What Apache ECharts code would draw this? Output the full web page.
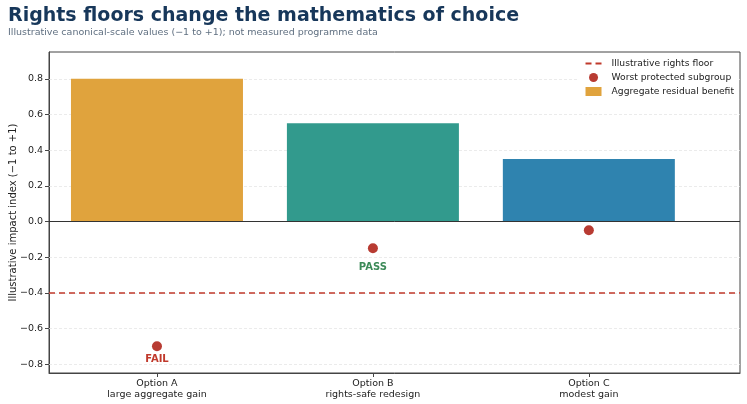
<!DOCTYPE html>
<html>
<head>
    <meta charset="utf-8">
    <title>Rights floors</title>
    <script src="https://cdn.jsdelivr.net/npm/echarts@6/dist/echarts.min.js"></script>
    <style>
        html, body { margin: 0; padding: 0; background: #fff; }
        #main { width: 747px; height: 404px; }
    </style>
</head>
<body>
<div id="main"></div>
<script type="text/javascript">
    // data
    var options = ['Option A\nlarge aggregate gain', 'Option B\nrights-safe redesign', 'Option C\nmodest gain'];
    var aggregateBenefit = [0.80, 0.55, 0.35];
    var worstSubgroup = [-0.70, -0.15, -0.05];
    var verdicts = ['FAIL', 'PASS', ''];
    var rightsFloor = -0.4;
    var yTicks = [-0.8, -0.6, -0.4, -0.2, 0.0, 0.2, 0.4, 0.6, 0.8];

    var barColors = ['#E0A33D', '#329A8D', '#2F83AF'];
    var verdictColors = { FAIL: '#C0392B', PASS: '#3C8A58' };
    var verdictOffset = { FAIL: 12, PASS: 18 };
    var font = 'DejaVu Sans';

    var myChart = echarts.init(document.getElementById('main'));

    var barData = [];
    var dotData = [];
    for (var i = 0; i < options.length; i++) {
        barData.push({ value: [i, aggregateBenefit[i]], itemStyle: { color: barColors[i] } });
        var v = verdicts[i];
        dotData.push({
            value: [i, worstSubgroup[i]],
            label: v ? {
                show: true, formatter: v, position: 'bottom', distance: verdictOffset[v] - 9,
                color: verdictColors[v], fontWeight: 'bold', fontSize: 10, fontFamily: font
            } : { show: false }
        });
    }

    var gridLines = [];
    for (var k = 0; k < yTicks.length; k++) gridLines.push({ yAxis: yTicks[k] });

    var option = {
        animation: false,
        backgroundColor: '#fff',
        title: {
            text: 'Rights floors change the mathematics of choice',
            subtext: 'Illustrative canonical-scale values (\u22121 to +1); not measured programme data',
            left: 3, top: 2,
            itemGap: 2,
            textStyle: { fontFamily: font, fontSize: 19, fontWeight: 'bold', color: '#17375A' },
            subtextStyle: { fontFamily: font, fontSize: 9.5, color: '#5F6F80' }
        },
        legend: {
            orient: 'vertical',
            right: 9, top: 56,
            padding: [3, 4, 3, 8],
            backgroundColor: '#fff',
            itemGap: 5,
            itemWidth: 16, itemHeight: 9,
            align: 'left',
            z: 10,
            textStyle: { fontFamily: font, fontSize: 9.2, color: '#222', padding: [0, 0, 0, 5] },
            data: [
                { name: 'Illustrative rights floor', icon: 'path://M0,3.5H6V5.5H0Z M10,3.5H16V5.5H10Z' },
                { name: 'Worst protected subgroup', icon: 'circle' },
                { name: 'Aggregate residual benefit', icon: 'rect' }
            ]
        },
        grid: {
            left: 49, right: 7, top: 52, bottom: 31,
            outerBoundsMode: 'none',
            show: true, borderColor: '#444', borderWidth: 1
        },
        xAxis: {
            type: 'value',
            min: -0.5, max: 2.7,
            splitLine: { show: false },
            axisLine: { show: true, onZero: false, lineStyle: { color: '#444' } },
            axisTick: { show: true, customValues: [0, 1, 2], length: 4, lineStyle: { color: '#444' } },
            axisLabel: {
                customValues: [0, 1, 2],
                formatter: function (val) { return options[Math.round(val)]; },
                fontFamily: font, fontSize: 9.5, color: '#222', lineHeight: 11, margin: 5
            }
        },
        yAxis: {
            type: 'value',
            min: -0.85, max: 0.95,
            name: 'Illustrative impact index (\u22121 to +1)',
            nameLocation: 'middle',
            nameGap: 31,
            nameMoveOverlap: false,
            nameTextStyle: { fontFamily: font, fontSize: 10, color: '#222' },
            splitLine: { show: false },
            axisLine: { show: true, onZero: false, lineStyle: { color: '#444' } },
            axisTick: { show: true, customValues: yTicks, length: 4, lineStyle: { color: '#444' } },
            axisLabel: {
                customValues: yTicks,
                formatter: function (val) { return val.toFixed(1).replace('-', '\u2212'); },
                fontFamily: font, fontSize: 9.5, color: '#222', margin: 6
            }
        },
        series: [
            {
                name: 'grid',
                type: 'line',
                data: [],
                z: 0,
                silent: true,
                markLine: {
                    silent: true, symbol: 'none', label: { show: false },
                    z: 1,
                    lineStyle: { color: '#E6E6E6', type: [3, 2], width: 0.8 },
                    data: gridLines
                }
            },
            {
                name: 'Aggregate residual benefit',
                type: 'bar',
                barWidth: 172,
                z: 2,
                itemStyle: { color: barColors[0], opacity: 1 },
                data: barData,
                markLine: {
                    silent: true, symbol: 'none', label: { show: false },
                    lineStyle: { color: '#333', type: 'solid', width: 1 },
                    data: [{ yAxis: 0 }]
                }
            },
            {
                name: 'Illustrative rights floor',
                type: 'line',
                data: [],
                z: 3,
                itemStyle: { color: '#C0392B' },
                lineStyle: { color: '#C0392B' },
                markLine: {
                    silent: true, symbol: 'none', label: { show: false },
                    lineStyle: { color: '#C0392B', type: [6, 4], width: 1.6 },
                    data: [{ yAxis: rightsFloor }]
                }
            },
            {
                name: 'Worst protected subgroup',
                type: 'scatter',
                symbolSize: 10,
                z: 4,
                itemStyle: { color: '#B83B32', opacity: 1 },
                data: dotData
            }
        ]
    };

    myChart.setOption(option);
</script>
</body>
</html>
